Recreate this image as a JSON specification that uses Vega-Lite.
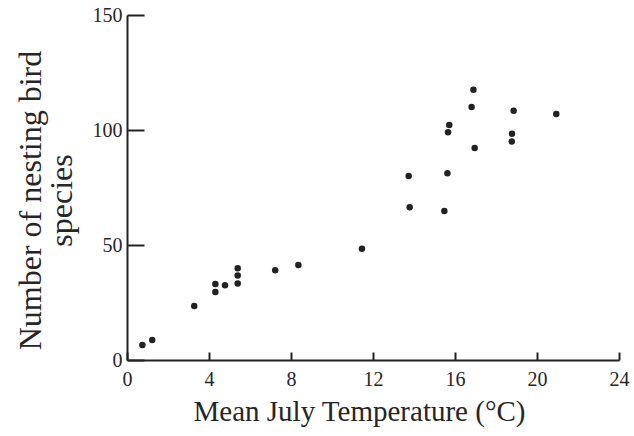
{
  "$schema": "https://vega.github.io/schema/vega-lite/v6.json",
  "autosize": {"type": "none"},
  "padding": {"left": 127, "top": 15, "right": 15, "bottom": 76},
  "width": 492,
  "height": 345,
  "background": "white",
  "config": {"view": {"stroke": null}},
  "data": {"values": [
    {"temp": 0.75, "species": 6.5},
    {"temp": 1.23, "species": 8.7},
    {"temp": 3.28, "species": 23.5},
    {"temp": 4.31, "species": 33},
    {"temp": 4.31, "species": 29.6},
    {"temp": 4.78, "species": 32.5},
    {"temp": 5.4, "species": 39.9},
    {"temp": 5.4, "species": 36.7},
    {"temp": 5.4, "species": 33.3},
    {"temp": 7.23, "species": 39},
    {"temp": 8.36, "species": 41.3},
    {"temp": 11.46, "species": 48.4},
    {"temp": 13.74, "species": 80},
    {"temp": 13.79, "species": 66.4},
    {"temp": 15.48, "species": 64.8},
    {"temp": 15.63, "species": 81.2},
    {"temp": 15.66, "species": 99},
    {"temp": 15.72, "species": 102.2},
    {"temp": 16.81, "species": 110},
    {"temp": 16.9, "species": 117.5},
    {"temp": 16.96, "species": 92.2},
    {"temp": 18.78, "species": 98.4},
    {"temp": 18.77, "species": 95},
    {"temp": 18.86, "species": 108.4},
    {"temp": 20.94, "species": 107}
  ]},
  "mark": {"type": "point", "filled": true, "shape": "circle", "size": 42, "color": "#222222", "opacity": 1},
  "encoding": {
    "x": {
      "field": "temp", "type": "quantitative",
      "scale": {"domain": [0, 24], "nice": false, "zero": false},
      "axis": {
        "title": "Mean July Temperature (°C)",
        "values": [0, 4, 8, 12, 16, 20, 24],
        "grid": false,
        "domainColor": "#222222", "domainWidth": 2,
        "tickColor": "#222222", "tickWidth": 2, "tickSize": -8,
        "labelFont": "Liberation Serif", "labelFontSize": 20, "labelColor": "#262626",
        "labelPadding": 17, "labelFlush": false,
        "titleFont": "Liberation Serif", "titleFontSize": 29, "titleFontWeight": "normal", "titleColor": "#262626",
        "titleX": 232, "titleY": 60, "titleAlign": "center", "titleBaseline": "alphabetic"
      }
    },
    "y": {
      "field": "species", "type": "quantitative",
      "scale": {"domain": [0, 150], "nice": false},
      "axis": {
        "title": ["Number of nesting bird", "species"],
        "values": [0, 50, 100, 150],
        "grid": false,
        "domainColor": "#222222", "domainWidth": 2,
        "tickColor": "#222222", "tickWidth": 2, "tickSize": -17,
        "labelFont": "Liberation Serif", "labelFontSize": 20, "labelColor": "#262626",
        "labelPadding": 22, "labelFlush": false,
        "titleFont": "Liberation Serif", "titleFontSize": 32, "titleFontWeight": "normal", "titleColor": "#262626",
        "titleAngle": -90, "titleX": -97, "titleY": 185, "titleAlign": "center", "titleBaseline": "middle",
        "titleLineHeight": 31
      }
    }
  }
}
